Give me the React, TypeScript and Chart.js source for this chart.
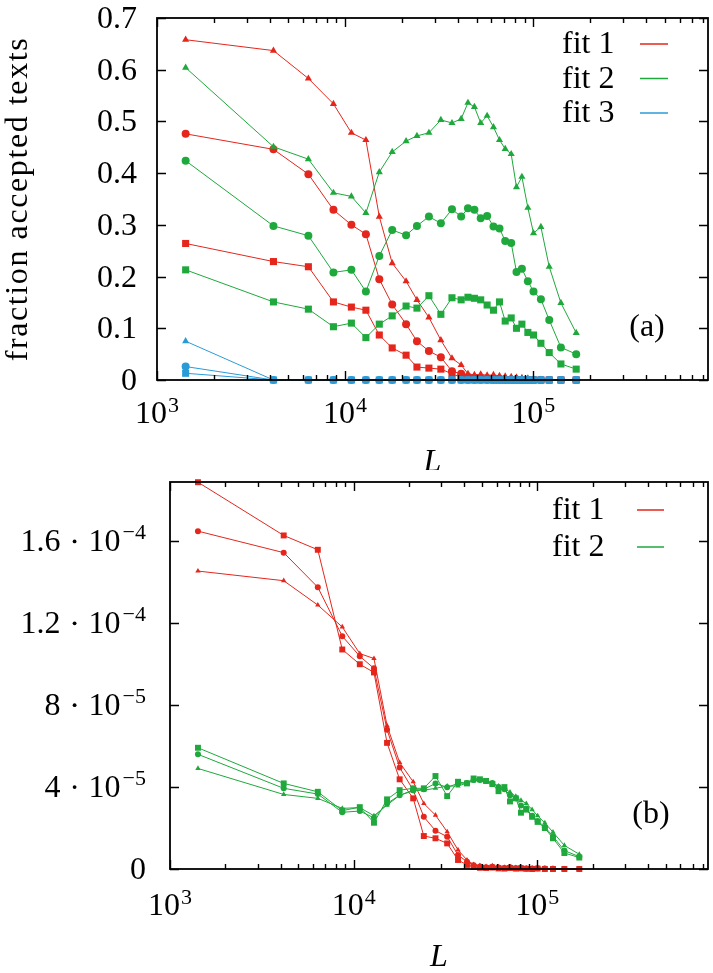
import React, { useEffect, useRef } from "react";
import { Chart, registerables } from "chart.js";

Chart.register(...registerables);

// ---------- data ----------
const L_VALUES = [1420, 4160, 6380, 8670, 10800, 12900, 15200, 17800, 21100, 24100, 27900, 32300, 37000, 41400, 45000, 48700, 52600, 56900, 61500, 66200, 71000, 76400, 81500, 87100, 93700, 100400, 109900, 121700, 140400, 169300];

// panel (a): fraction accepted texts
const A_FIT1_TRI = [0.658, 0.637, 0.583, 0.534, 0.478, 0.464, 0.316, 0.226, 0.191, 0.155, 0.121, 0.077, 0.042, 0.029, 0.012, 0.010, 0.011, 0.009, 0.010, 0.008, 0.007, 0.006, 0.005, 0.004, 0.003, 0.002, 0.001, 0, 0, 0];
const A_FIT1_CIR = [0.476, 0.446, 0.398, 0.329, 0.300, 0.282, 0.195, 0.146, 0.108, 0.075, 0.056, 0.044, 0.017, 0.012, 0.006, 0.004, 0.003, 0.003, 0.002, 0.002, 0.001, 0.001, 0.001, 0, 0, 0, 0, 0, 0, 0];
const A_FIT1_SQR = [0.264, 0.229, 0.219, 0.151, 0.141, 0.135, 0.087, 0.062, 0.048, 0.025, 0.023, 0.021, 0.012, 0.005, 0.003, 0.002, 0.001, 0.001, 0, 0, 0, 0, 0, 0, 0, 0, 0, 0, 0, 0];
const A_FIT2_TRI = [0.604, 0.451, 0.427, 0.362, 0.355, 0.323, 0.402, 0.441, 0.462, 0.472, 0.478, 0.503, 0.497, 0.505, 0.536, 0.528, 0.497, 0.511, 0.489, 0.464, 0.447, 0.437, 0.373, 0.393, 0.333, 0.284, 0.296, 0.219, 0.149, 0.091];
const A_FIT2_CIR = [0.424, 0.298, 0.279, 0.208, 0.213, 0.171, 0.240, 0.290, 0.280, 0.298, 0.316, 0.303, 0.330, 0.316, 0.332, 0.329, 0.313, 0.317, 0.297, 0.293, 0.269, 0.265, 0.209, 0.215, 0.191, 0.171, 0.156, 0.116, 0.063, 0.050];
const A_FIT2_SQR = [0.213, 0.151, 0.137, 0.103, 0.110, 0.082, 0.108, 0.124, 0.143, 0.139, 0.163, 0.127, 0.159, 0.155, 0.160, 0.158, 0.155, 0.145, 0.135, 0.151, 0.114, 0.120, 0.100, 0.108, 0.092, 0.087, 0.071, 0.053, 0.031, 0.021];
const A_FIT3_TRI = [0.075, 0, 0, 0, 0, 0, 0, 0, 0, 0, 0, 0, 0, 0, 0, 0, 0, 0, 0, 0, 0, 0, 0, 0, 0, 0, 0, 0, 0, 0];
const A_FIT3_CIR = [0.026, 0, 0, 0, 0, 0, 0, 0, 0, 0, 0, 0, 0, 0, 0, 0, 0, 0, 0, 0, 0, 0, 0, 0, 0, 0, 0, 0, 0, 0];
const A_FIT3_SQR = [0.013, 0, 0, 0, 0, 0, 0, 0, 0, 0, 0, 0, 0, 0, 0, 0, 0, 0, 0, 0, 0, 0, 0, 0, 0, 0, 0, 0, 0, 0];

// panel (b)
const B_FIT1_TRI = [1.455e-4, 1.408e-4, 1.289e-4, 1.182e-4, 1.052e-4, 1.028e-4, 7.0e-5, 5.2e-5, 4.26e-5, 3.2e-5, 2.63e-5, 1.82e-5, 9.3e-6, 4.4e-6, 2.2e-6, 1.6e-6, 1.2e-6, 1.5e-6, 1.0e-6, 8e-7, 1.1e-6, 7e-7, 9e-7, 5e-7, 4e-7, 6e-7, 3e-7, 3e-7, 1e-7, 0];
const B_FIT1_CIR = [1.65e-4, 1.545e-4, 1.376e-4, 1.137e-4, 1.039e-4, 9.8e-5, 6.8e-5, 4.96e-5, 3.85e-5, 2.55e-5, 1.87e-5, 1.58e-5, 6.8e-6, 3.6e-6, 1.8e-6, 1.2e-6, 9e-7, 1.1e-6, 7e-7, 5e-7, 8e-7, 4e-7, 6e-7, 3e-7, 2e-7, 4e-7, 2e-7, 1e-7, 0, 0];
const B_FIT1_SQR = [1.889e-4, 1.629e-4, 1.559e-4, 1.072e-4, 1.0e-4, 9.6e-5, 6.16e-5, 4.38e-5, 3.45e-5, 1.61e-5, 1.5e-5, 1.25e-5, 4.4e-6, 2e-6, 1e-6, 6e-7, 5e-7, 7e-7, 3e-7, 2e-7, 5e-7, 2e-7, 3e-7, 1e-7, 0, 2e-7, 0, 0, 0, 0];
const B_FIT2_TRI = [4.91e-5, 3.64e-5, 3.45e-5, 2.96e-5, 3.0e-5, 2.6e-5, 3.12e-5, 3.6e-5, 3.82e-5, 3.85e-5, 3.94e-5, 4.05e-5, 4.05e-5, 4.2e-5, 4.3e-5, 4.35e-5, 4.3e-5, 4.2e-5, 4.05e-5, 3.95e-5, 3.75e-5, 3.55e-5, 3.35e-5, 3.2e-5, 2.9e-5, 2.6e-5, 2.25e-5, 1.8e-5, 1.15e-5, 7.2e-6];
const B_FIT2_CIR = [5.6e-5, 3.94e-5, 3.66e-5, 2.77e-5, 2.83e-5, 2.5e-5, 3.2e-5, 3.6e-5, 3.85e-5, 3.89e-5, 4.18e-5, 3.99e-5, 4.18e-5, 4.2e-5, 4.35e-5, 4.35e-5, 4.3e-5, 4.2e-5, 4.0e-5, 3.9e-5, 3.6e-5, 3.45e-5, 3.1e-5, 2.95e-5, 2.6e-5, 2.35e-5, 2.05e-5, 1.6e-5, 9e-6, 6e-6];
const B_FIT2_SQR = [5.92e-5, 4.18e-5, 3.77e-5, 2.85e-5, 3.02e-5, 2.26e-5, 3.4e-5, 3.85e-5, 3.94e-5, 3.94e-5, 4.54e-5, 3.56e-5, 4.26e-5, 4.18e-5, 4.42e-5, 4.38e-5, 4.3e-5, 4.15e-5, 3.8e-5, 4.0e-5, 3.3e-5, 3.45e-5, 2.75e-5, 2.9e-5, 2.55e-5, 2.3e-5, 2.0e-5, 1.5e-5, 7.8e-6, 5.6e-6];

// ticks / labels
const X_MIN = 1000;
const X_MAX = 850000;
const X_MAJOR = [1e3, 1e4, 1e5];
const X_MAJOR_EXP = ["3", "4", "5"];
const A_Y_TICKS = [0, 0.1, 0.2, 0.3, 0.4, 0.5, 0.6, 0.7];
const A_Y_LABELS = ["0", "0.1", "0.2", "0.3", "0.4", "0.5", "0.6", "0.7"];
const B_Y_TICKS = [0, 4e-5, 8e-5, 1.2e-4, 1.6e-4];
const B_Y_MANT = ["0", "4", "8", "1.2", "1.6"];
const B_Y_EXP = ["", "\u22125", "\u22125", "\u22124", "\u22124"];
const A_LEGEND = ["fit 1", "fit 2", "fit 3"];
const B_LEGEND = ["fit 1", "fit 2"];

const RED = "#e4261c";
const GREEN = "#1fa83c";
const BLUE = "#2a9bd7";
const FONT = '"Liberation Serif", "DejaVu Serif", "Noto Serif", "Times New Roman", Times, serif';

type Series = { label: string; values: number[]; color: string; style: string; radius: number };

type Panel = {
  height: number;
  padTop: number;
  yAxisWidth: number;
  xAxisHeight: number;
  yMax: number;
  series: Series[];
  yTicks: number[];
  yMant: string[];
  yExp: string[];
  yLabelRight: number;
  xLabelBase: number;
  LBase: number;
  yTitle: string;
  legend: string[];
  legendColors: string[];
  legendTextX: number;
  legendLineX0: number;
  legendLineX1: number;
  legendY0: number;
  legendDy: number;
  tag: string;
  tagX: number;
  tagBase: number;
};

const TOP: Panel = {
  height: 470,
  padTop: 18,
  yAxisWidth: 157,
  xAxisHeight: 90,
  yMax: 0.7,
  series: [
    { label: "fit 3", values: A_FIT3_SQR, color: BLUE, style: "rect", radius: 5.0 },
    { label: "fit 3", values: A_FIT3_CIR, color: BLUE, style: "circle", radius: 4.0 },
    { label: "fit 3", values: A_FIT3_TRI, color: BLUE, style: "triangle", radius: 4.1 },
    { label: "fit 2", values: A_FIT2_SQR, color: GREEN, style: "rect", radius: 5.0 },
    { label: "fit 2", values: A_FIT2_CIR, color: GREEN, style: "circle", radius: 4.0 },
    { label: "fit 2", values: A_FIT2_TRI, color: GREEN, style: "triangle", radius: 4.1 },
    { label: "fit 1", values: A_FIT1_SQR, color: RED, style: "rect", radius: 5.0 },
    { label: "fit 1", values: A_FIT1_CIR, color: RED, style: "circle", radius: 4.0 },
    { label: "fit 1", values: A_FIT1_TRI, color: RED, style: "triangle", radius: 4.1 },
  ],
  yTicks: A_Y_TICKS,
  yMant: A_Y_LABELS,
  yExp: A_Y_TICKS.map(() => ""),
  yLabelRight: 137,
  xLabelBase: 423,
  LBase: 471,
  yTitle: "fraction accepted texts",
  legend: A_LEGEND,
  legendColors: [RED, GREEN, BLUE],
  legendTextX: 562,
  legendLineX0: 640,
  legendLineX1: 668,
  legendY0: 44,
  legendDy: 34.5,
  tag: "(a)",
  tagX: 647,
  tagBase: 336,
};

const BOTTOM: Panel = {
  height: 503,
  padTop: 12,
  yAxisWidth: 170,
  xAxisHeight: 104,
  yMax: 1.89e-4,
  series: [
    { label: "fit 2", values: B_FIT2_SQR, color: GREEN, style: "rect", radius: 4.2 },
    { label: "fit 2", values: B_FIT2_CIR, color: GREEN, style: "circle", radius: 3.0 },
    { label: "fit 2", values: B_FIT2_TRI, color: GREEN, style: "triangle", radius: 3.1 },
    { label: "fit 1", values: B_FIT1_SQR, color: RED, style: "rect", radius: 4.2 },
    { label: "fit 1", values: B_FIT1_CIR, color: RED, style: "circle", radius: 3.0 },
    { label: "fit 1", values: B_FIT1_TRI, color: RED, style: "triangle", radius: 3.1 },
  ],
  yTicks: B_Y_TICKS,
  yMant: B_Y_MANT,
  yExp: B_Y_EXP,
  yLabelRight: 146,
  xLabelBase: 445,
  LBase: 496,
  yTitle: "",
  legend: B_LEGEND,
  legendColors: [RED, GREEN],
  legendTextX: 552,
  legendLineX0: 637,
  legendLineX1: 664,
  legendY0: 40,
  legendDy: 37,
  tag: "(b)",
  tagX: 651,
  tagBase: 353,
};

function decorPlugin(p: Panel) {
  return {
    id: "decor",
    afterDraw(chart: any) {
      const ctx: CanvasRenderingContext2D = chart.ctx;
      const { left, right, top, bottom } = chart.chartArea;
      const xs = chart.scales.x;
      const ys = chart.scales.y;
      ctx.save();
      ctx.strokeStyle = "#000";
      ctx.fillStyle = "#000";

      // ticks
      ctx.lineWidth = 1.4;
      ctx.beginPath();
      for (let d = 3; d <= 6; d++) {
        for (let k = 1; k <= 9; k++) {
          const v = k * Math.pow(10, d);
          if (v < X_MIN || v > X_MAX) continue;
          const px = Math.round(xs.getPixelForValue(v)) + 0.5;
          const len = k === 1 ? 9 : 5;
          ctx.moveTo(px, bottom);
          ctx.lineTo(px, bottom - len);
          ctx.moveTo(px, top);
          ctx.lineTo(px, top + len);
        }
      }
      p.yTicks.forEach((v) => {
        const py = Math.round(ys.getPixelForValue(v)) + 0.5;
        ctx.moveTo(left, py);
        ctx.lineTo(left + 9, py);
        ctx.moveTo(right, py);
        ctx.lineTo(right - 9, py);
      });
      ctx.stroke();

      // frame
      ctx.lineWidth = 1.8;
      ctx.strokeRect(left, top, right - left, bottom - top);

      // x tick labels
      const mainFont = `32px ${FONT}`;
      const supFont = `22px ${FONT}`;
      ctx.textBaseline = "alphabetic";
      ctx.textAlign = "left";
      X_MAJOR.forEach((v, i) => {
        const px = xs.getPixelForValue(v);
        ctx.font = mainFont;
        const w1 = ctx.measureText("10").width;
        ctx.font = supFont;
        const w2 = ctx.measureText(X_MAJOR_EXP[i]).width;
        const x0 = px - (w1 + w2 + 1) / 2;
        ctx.font = mainFont;
        ctx.fillText("10", x0, p.xLabelBase);
        ctx.font = supFont;
        ctx.fillText(X_MAJOR_EXP[i], x0 + w1 + 1, p.xLabelBase - 11);
      });

      // y tick labels
      p.yTicks.forEach((v, i) => {
        const py = ys.getPixelForValue(v);
        const base = py + 10;
        const mant = p.yMant[i];
        const exp = p.yExp[i];
        if (!exp) {
          ctx.font = mainFont;
          ctx.textAlign = "right";
          ctx.fillText(mant, p.yLabelRight, base);
          ctx.textAlign = "left";
          return;
        }
        ctx.font = supFont;
        const we = ctx.measureText(exp).width;
        ctx.font = mainFont;
        const wt = ctx.measureText("10").width;
        const wm = ctx.measureText(mant).width;
        const xe = p.yLabelRight - we;
        const xt = xe - 2 - wt;
        const xdot = xt - 16;
        const xm = xdot - 12 - wm;
        ctx.fillText("10", xt, base);
        ctx.fillText(mant, xm, base);
        ctx.beginPath();
        ctx.arc(xdot + 2, base - 10, 1.9, 0, Math.PI * 2);
        ctx.fill();
        ctx.font = supFont;
        ctx.fillText(exp, xe, base - 12);
      });

      // x axis title
      ctx.font = `italic 32px ${FONT}`;
      ctx.textAlign = "center";
      ctx.fillText("L", (left + right) / 2, p.LBase);

      // y axis title
      if (p.yTitle) {
        ctx.save();
        ctx.translate(27, (top + bottom) / 2);
        ctx.rotate(-Math.PI / 2);
        ctx.font = `32px ${FONT}`;
        (ctx as any).letterSpacing = "1.6px";
        ctx.textAlign = "center";
        ctx.fillText(p.yTitle, 0, 0);
        ctx.restore();
      }

      // legend
      ctx.font = mainFont;
      ctx.textAlign = "left";
      p.legend.forEach((txt, i) => {
        const y = p.legendY0 + i * p.legendDy;
        ctx.fillStyle = "#000";
        ctx.fillText(txt, p.legendTextX, y + 9);
        ctx.strokeStyle = p.legendColors[i];
        ctx.lineWidth = 1.5;
        ctx.beginPath();
        ctx.moveTo(p.legendLineX0, y);
        ctx.lineTo(p.legendLineX1, y);
        ctx.stroke();
      });

      // panel tag
      ctx.fillStyle = "#000";
      ctx.font = mainFont;
      ctx.textAlign = "center";
      ctx.fillText(p.tag, p.tagX, p.tagBase);
      ctx.restore();
    },
  };
}

function makeConfig(p: Panel): any {
  return {
    type: "line",
    data: {
      datasets: p.series.map((s) => ({
        label: s.label,
        data: L_VALUES.map((x, i) => ({ x, y: s.values[i] })),
        borderColor: s.color,
        backgroundColor: s.color,
        borderWidth: 1,
        pointStyle: s.style,
        pointRadius: s.radius,
        pointBorderWidth: 0,
        pointBackgroundColor: s.color,
        pointBorderColor: s.color,
        tension: 0,
        fill: false,
        clip: false,
      })),
    },
    options: {
      animation: false,
      responsive: true,
      maintainAspectRatio: false,
      events: [],
      layout: { padding: { top: p.padTop, right: 5, left: 0, bottom: 0 } },
      plugins: { legend: { display: false }, tooltip: { enabled: false } },
      scales: {
        x: {
          type: "logarithmic",
          min: X_MIN,
          max: X_MAX,
          grid: { display: false },
          border: { display: false },
          ticks: { display: false },
          afterFit: (s: any) => {
            s.height = p.xAxisHeight;
          },
        },
        y: {
          type: "linear",
          min: 0,
          max: p.yMax,
          grid: { display: false },
          border: { display: false },
          ticks: { display: false },
          afterFit: (s: any) => {
            s.width = p.yAxisWidth;
          },
        },
      },
    },
    plugins: [decorPlugin(p)],
  };
}

export default function App() {
  const topRef = useRef<HTMLCanvasElement>(null);
  const botRef = useRef<HTMLCanvasElement>(null);
  useEffect(() => {
    const c1 = new Chart(topRef.current as HTMLCanvasElement, makeConfig(TOP));
    const c2 = new Chart(botRef.current as HTMLCanvasElement, makeConfig(BOTTOM));
    return () => {
      c1.destroy();
      c2.destroy();
    };
  }, []);
  return (
    <div style={{ position: "absolute", left: 0, top: 0, width: 713, height: 973, background: "#fff", overflow: "hidden" }}>
      <div style={{ position: "absolute", left: 0, top: 0, width: 713, height: TOP.height }}>
        <canvas ref={topRef} />
      </div>
      <div style={{ position: "absolute", left: 0, top: TOP.height, width: 713, height: BOTTOM.height }}>
        <canvas ref={botRef} />
      </div>
    </div>
  );
}
